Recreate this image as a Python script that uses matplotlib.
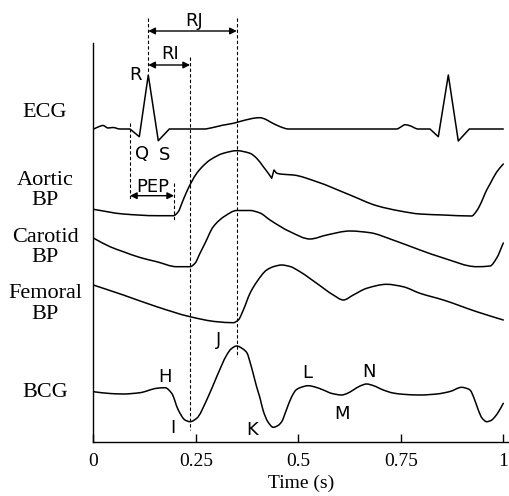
import matplotlib
matplotlib.use("Agg")
import matplotlib.pyplot as plt
from matplotlib.path import Path
from matplotlib.patches import PathPatch

# ---- data (time in s, amplitude in arbitrary stacked units) ----
ecg_t = [0, .0115, .0237, .0359, .048, .065, .0895, .1122, .1341, .1585, .1854,
         .27, .292, .3145, .3415, .362, .382, .397, .4066, .419, .431, .448, .4634, .475,
         .74, .7507, .7604, .7726, .7921, .8212, .8415, .8659, .8902, .9171, 1.0]
ecg_y = [313, 315.3, 316.8, 314.3, 314.8, 313.3, 313.3, 305.6, 367.3, 301.6, 313.3,
         313.3, 314.8, 317, 319, 321.3, 323.3, 324.4, 324.6, 323.2, 320.5, 317, 314.5, 313.3,
         313.3, 315.5, 317.6, 316.5, 313.3, 313.3, 305.6, 367.3, 301.3, 313.3, 313.3]
# indices of sharp corners in the ECG trace (QRS complex)
ecg_corners = [6, 7, 8, 9, 10, 29, 30, 31, 32, 33]

aortic_t = [0, .0732, .1546, .1951, .2073, .2163, .2278, .2395, .2522, .2676, .2846,
            .3171, .3498, .3822, .3985, .4146, .4268, .4351, .4407, .448, .4634, .4878,
            .5449, .6261, .6912, .748, .7968, .8537, .9229, .9332, .9432, .9595, .9676,
            .9839, 1.0]
aortic_y = [233, 228.3, 226.6, 226.6, 230.6, 239.3, 250.6, 260.3, 269, 276.3, 282.3,
            289, 291.6, 289, 284, 275.6, 269, 264, 272.3, 269, 268, 267.3,
            260.6, 247.3, 236.6, 231.3, 228.3, 227.3, 226.3, 230.3, 237.3, 252.3, 258.3,
            270.3, 278.3]
aortic_corners = [17, 18]

carotid_t = [0, .0407, .0732, .1139, .1546, .2034, .2359, .248, .2602, .2724, .2927,
             .3212, .3498, .3822, .4066, .431, .4798, .5285, .5693, .6261, .6749, .731,
             .7968, .8537, .9351, .9676, .9839, 1.0]
carotid_y = [204.3, 195.6, 190.6, 184.8, 180.6, 175.6, 175.6, 179, 189, 199, 215.6,
             226.3, 231.8, 231.8, 229.3, 222.3, 210.6, 203.3, 207.3, 211.3, 209.6, 202.3,
             192.3, 184.3, 175.6, 176.3, 184.3, 199.3]

femoral_t = [0, .0732, .1546, .2359, .301, .3415, .3537, .3659, .3822, .3985, .4229,
             .4407, .4595, .4798, .5041, .5449, .5854, .6098, .6341, .6668, .7156, .7554,
             .7968, .8537, .9351, 1.0]
femoral_y = [157.3, 147.3, 135.6, 125.6, 120.6, 119.6, 122.3, 132.3, 149, 160.3, 172.3,
             175.8, 177.3, 175.8, 170.6, 159, 147.3, 142.3, 147.3, 154, 158, 155.6,
             149, 142.3, 130.6, 122.3]

bcg_t = [0, .0407, .0732, .1139, .1546, .1749, .1912, .2073, .2237, .2359, .2522, .2766,
         .301, .3254, .3359, .3498, .3651, .3749, .3822, .3902, .3985, .4066, .4146, .4261,
         .439, .4505, .4595, .47, .4839, .4944, .5041, .5244, .5407, .561, .5822, .6059,
         .6188, .6341, .6505, .6668, .6822, .7073, .731, .7561, .7968, .8376, .87, .8985,
         .9115, .9188, .9285, .939, .948, .9595, .97, .9798, .9895, 1.0]
bcg_y = [50.6, 48.8, 48.3, 49.6, 54.0, 54.6, 49.0, 32.3, 22.3, 20.6, 24.0, 42.3,
         65.6, 87.3, 93.3, 96.3, 93.3, 89.3, 80.3, 68.3, 55.3, 44.3, 31.3, 20.3,
         15.0, 16.8, 20.6, 31.3, 45.6, 52.3, 54.6, 56.6, 55.3, 52.3, 48.8, 47.3,
         48.8, 52.3, 56.3, 58.3, 56.8, 52.3, 49.3, 48.0, 47.3, 48.3, 50.8, 55.0,
         53.8, 52.3, 44.3, 32.3, 24.3, 20.6, 21.8, 25.6, 31.3, 39.0]

xticks = [0, 0.25, 0.5, 0.75, 1]
xtick_labels = ["0", "0.25", "0.5", "0.75", "1"]

signal_labels = [("ECG", 325.6), ("Aortic", 257.3), ("BP", 237.3), ("Carotid", 200.6),
                 ("BP", 180.6), ("Femoral", 144.3), ("BP", 123.3), ("BCG", 45.3)]

point_labels = [("R", .1034, 362.3), ("Q", .1188, 283.3), ("S", .1749, 282.3),
                ("PEP", .1456, 250.6), ("RI", .187, 383.3), ("RJ", .246, 416.3),
                ("H", .1749, 60.6), ("I", .1951, 9), ("J", .3049, 97.3), ("K", .3863, 7.3),
                ("L", .522, 64), ("M", .6059, 23), ("N", .6732, 65)]

# dashed guide lines: (t, y_top, y_bottom)
guides = [(.0895, 319, 243), (.197, 259, 222), (.236, 385.3, 12.3),
          (.35, 424.3, 85.3), (.1341, 424.3, 370)]
# interval arrows: (t_start, t_end, y)
arrows = [(.1341, .35, 411.3), (.1341, .236, 377.3), (.0895, .197, 246.6)]


def smooth_path(t, y, corners=()):
    """Bezier path through the read points (monotone tangents, straight at corners)."""
    n = len(t)
    d = [(y[i + 1] - y[i]) / (t[i + 1] - t[i]) for i in range(n - 1)]
    m = [0.0] * n
    m[0], m[-1] = d[0], d[-1]
    for i in range(1, n - 1):
        if d[i - 1] * d[i] <= 0:
            m[i] = 0.0
        else:
            h0, h1 = t[i] - t[i - 1], t[i + 1] - t[i]
            w1, w2 = 2 * h1 + h0, h1 + 2 * h0
            m[i] = (w1 + w2) / (w1 / d[i - 1] + w2 / d[i])
    verts = [(t[0], y[0])]
    codes = [Path.MOVETO]
    for i in range(n - 1):
        if i in corners and (i + 1) in corners:
            verts.append((t[i + 1], y[i + 1]))
            codes.append(Path.LINETO)
            continue
        h = t[i + 1] - t[i]
        m0 = d[i] if i in corners else m[i]
        m1 = d[i] if (i + 1) in corners else m[i + 1]
        verts += [(t[i] + h / 3, y[i] + m0 * h / 3),
                  (t[i + 1] - h / 3, y[i + 1] - m1 * h / 3),
                  (t[i + 1], y[i + 1])]
        codes += [Path.CURVE4] * 3
    return Path(verts, codes)


W, H = 509, 496
fig = plt.figure(figsize=(W / 100, H / 100), dpi=100)
ax = fig.add_axes([93.3 / W, (H - 442.3) / H, (W - 93.3) / W, (442.3 - 43.3) / H])
ax.set_xlim(0, (W - 93.3) / 410)
ax.set_ylim(0, 399)

lw = 1.1
for t, y, c in [(ecg_t, ecg_y, ecg_corners), (aortic_t, aortic_y, aortic_corners),
                (carotid_t, carotid_y, ()), (femoral_t, femoral_y, ()), (bcg_t, bcg_y, ())]:
    ax.add_patch(PathPatch(smooth_path(t, y, c), facecolor="none", edgecolor="black",
                           lw=lw, joinstyle="round", capstyle="round"))

for t, y0, y1 in guides:
    ax.plot([t, t], [y0, y1], color="black", lw=0.8, linestyle=(0, (3, 2)), clip_on=False)

for t0, t1, y in arrows:
    ax.annotate("", xy=(t1, y), xytext=(t0, y), annotation_clip=False,
                arrowprops=dict(arrowstyle="<|-|>", color="black", lw=1.0,
                                mutation_scale=10, shrinkA=0, shrinkB=0))

for txt, t, y in point_labels:
    ax.text(t, y, txt, ha="center", va="baseline", fontsize=13,
            family="DejaVu Sans", clip_on=False)

lab_x = (45 - 93.3) / 410
for txt, y in signal_labels:
    ax.text(lab_x, y, txt, ha="center", va="baseline", fontsize=16,
            family="Liberation Serif", clip_on=False)

for s in ["top", "right"]:
    ax.spines[s].set_visible(False)
for s in ["left", "bottom"]:
    ax.spines[s].set_linewidth(1.0)
ax.set_yticks([])
ax.set_xticks(xticks)
ax.set_xticklabels(xtick_labels, family="Liberation Serif", fontsize=14)
ax.tick_params(axis="x", direction="in", length=5.8, width=1.0, pad=8)
ax.set_xlabel("Time (s)", family="Liberation Serif", fontsize=14, labelpad=3)

fig.savefig("out.png", dpi=100)
